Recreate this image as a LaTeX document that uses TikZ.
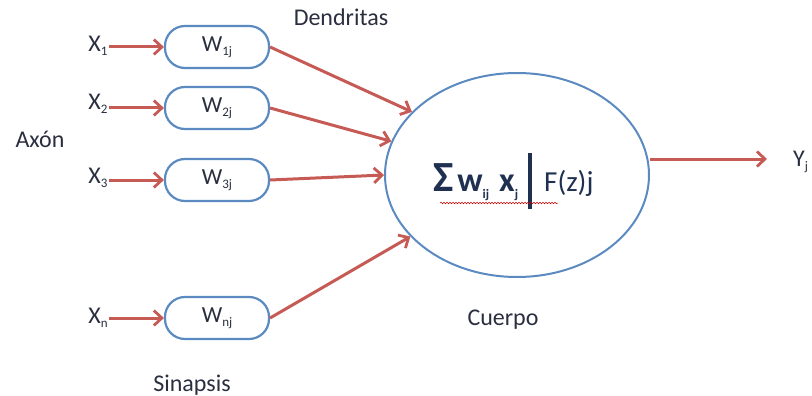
\documentclass[tikz,border=0pt]{standalone}
\usepackage{fontspec}
\setmainfont{Carlito}
\usetikzlibrary{shapes.geometric,arrows.meta,decorations.pathmorphing}
\definecolor{arrred}{HTML}{C65A55}
\definecolor{boxblue}{HTML}{5A8AC0}
\definecolor{txt}{HTML}{2A2F3F}
\definecolor{navy}{HTML}{1F3050}
\newcommand\mysub[2][4pt]{\raisebox{-#1}{\fontsize{13}{13}\selectfont #2}}
\tikzset{
  syn/.style={draw=boxblue, line width=2.2pt, fill=white, rounded corners=20pt,
    minimum width=104pt, minimum height=42pt, inner sep=0pt, text=txt,
    font=\fontsize{23}{23}\selectfont},
  lbl/.style={text=txt, inner sep=1pt, font=\fontsize{24}{24}\selectfont},
  conn/.style={draw=arrred, line width=3pt,
    -{Straight Barb[length=8pt,width=15pt,line width=2.8pt]}},
  body/.style={ellipse, draw=boxblue, line width=2pt, minimum width=264pt,
    minimum height=204pt, inner sep=0pt}
}
\begin{document}
\begin{tikzpicture}[x=1pt,y=-1pt]
\useasboundingbox (0,0) rectangle (812,396);
% synapse boxes
\node[syn] (w1) at (217,47) {W\mysub{1j}};
\node[syn] (w2) at (217,108) {W\mysub{2j}};
\node[syn] (w3) at (217,180) {W\mysub{3j}};
\node[syn] (wn) at (217,318) {W\mysub{nj}};
% inputs
\node[lbl] (x1) at (98,46) {X\mysub{1}};
\node[lbl] (x2) at (98,104) {X\mysub{2}};
\node[lbl] (x3) at (98,178) {X\mysub{3}};
\node[lbl] (xn) at (98,318) {X\mysub{n}};
% body
\node[text=navy, inner sep=0pt, anchor=base west] (sum) at (433,191)
  {\fontsize{43}{43}\selectfont\textbf{Σ}\hspace{4pt}%
   \fontsize{34}{34}\selectfont\textbf{w}\mysub[7pt]{\textbf{ij}}\hspace{10pt}%
   \textbf{x}\mysub[7pt]{\textbf{j}}\hspace{10pt}%
   \rule[-18pt]{4pt}{56pt}\hspace{12pt}%
   {\fontsize{29}{29}\selectfont F(z)j}};
\node[body] (cell) at (517,175) {};
\coordinate (ul1) at (440,203);
\coordinate (ul2) at (558,203);
\draw[red!80!black, line width=0.5pt, decorate,
  decoration={snake, amplitude=0.8pt, segment length=3pt}] (ul1) -- (ul2);
% labels
\node[lbl] (dend) at (341,17) {Dendritas};
\node[lbl] (axon) at (40,139) {Axón};
\node[lbl] (cuerpo) at (503,320) {Cuerpo};
\node[lbl] (sinap) at (192,385) {Sinapsis};
\node[lbl, anchor=west] (yj) at (792,162) {Y\mysub{j}};
% connectors
\draw[conn] (x1.east |- w1) -- (w1.west);
\draw[conn] (x2.east |- w2) -- (w2.west);
\draw[conn] (x3.east |- w3) -- (w3.west);
\draw[conn] (xn.east |- wn) -- (wn.west);
\draw[conn] (w1.east) -- (cell.149);
\draw[conn] (w2.east) -- (cell.165);
\draw[conn] (w3.east) -- (cell.west);
\draw[conn] (wn.east) -- (cell.210);
\coordinate (yend) at (767,159);
\draw[conn] (cell.east |- yend) -- (yend);
\end{tikzpicture}
\end{document}
